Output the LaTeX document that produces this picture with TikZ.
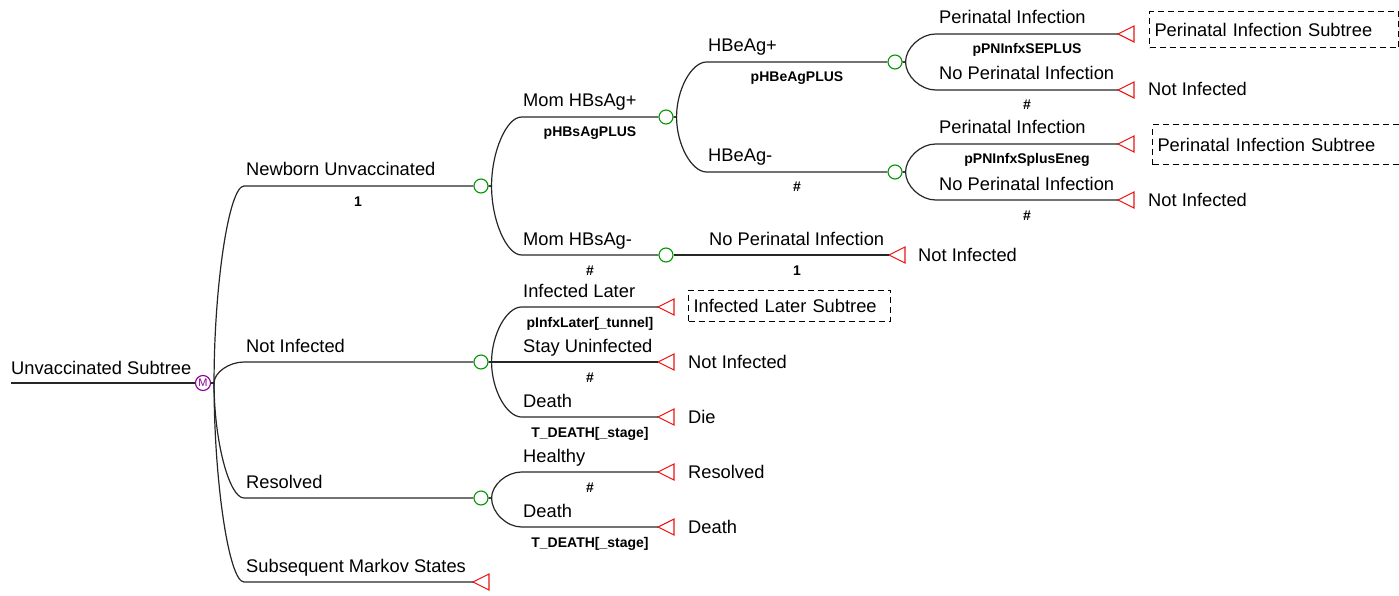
\documentclass[tikz,border=0pt]{standalone}
\usepackage{fontspec}
\setmainfont{Liberation Sans}
\usetikzlibrary{calc,shapes.geometric}

\def\bigsize{18.3}
\def\smallsize{14}

\definecolor{chancegreen}{RGB}{0,150,0}
\definecolor{termred}{RGB}{235,20,20}
\definecolor{markovpurple}{RGB}{140,0,150}

\begin{document}
\begin{tikzpicture}[x=1pt,y=-1pt,
  every node/.style={font=\fontsize{\bigsize}{22}\selectfont},
  tree/.style={line width=1.2pt,black!85},
  lbl/.style={anchor=base west,inner sep=0pt},
  prob/.style={anchor=base,inner sep=0pt,font=\fontsize{\smallsize}{16}\selectfont\bfseries},
  outc/.style={anchor=base west,inner sep=0pt},
  chance/.style={circle,draw=chancegreen,line width=1.1pt,minimum size=14pt,inner sep=0pt},
  markov/.style={circle,draw=markovpurple,line width=1.1pt,minimum size=15pt,inner sep=0pt,
    text=markovpurple,font=\fontsize{11}{11}\selectfont},
  term/.style={isosceles triangle,isosceles triangle stretches,shape border rotate=180,
    draw=termred,line width=1.1pt,minimum width=16pt,minimum height=16pt,inner sep=0pt,outer sep=0pt},
  subtree/.style={draw,line width=1pt,dash pattern=on 6pt off 4pt,anchor=west,
    inner xsep=5pt,inner ysep=0pt,align=left},
  branch/.style={to path={let \p1=(\tikztostart), \p2=(\tikztotarget) in
    -- ++(3,0) .. controls ({\x1+3},{0.5*\y1+0.5*\y2}) and ({\x1+18},\y2) .. ({\x1+33},\y2)
    -- (\tikztotarget)}}]
 \useasboundingbox (0,0) rectangle (1399,596);
 \clip (0,0) rectangle (1399,596);
 % Root and Markov node
 \coordinate (root) at (11,383);
 \node[markov] (mk) at (203,383) {M};
 \node[lbl] (rootlbl) at (11,374) {Unvaccinated Subtree};
 \draw[tree] (root) -- (mk);
 % Chance nodes
 \foreach \n/\x/\y in {c1/481/186,c2/481/362,c3/481/498,c4/666/117,
   c5/666/255,c6/895/62,c7/895/172}
  \node[chance] (\n) at (\x,\y) {};
 % Terminal nodes
 \foreach \n/\x/\y in {t1/1118/34,t2/1118/90,t3/1118/144,t4/1118/200,t5/889/255,
   t6/658/307,t7/658/362,t8/658/417,t9/658/472,t10/658/527,t11/473/582}
  \node[term,anchor=apex] (\n) at (\x,\y) {};
 % Branches
 \foreach \a/\b in {mk/c1,mk/c2,mk/c3,c1/c4,c1/c5,c4/c6,c4/c7}
  \draw[tree] (\a.east) to[branch] (\b.west);
 \foreach \a/\b in {mk/t11,c6/t1,c6/t2,c7/t3,c7/t4,c5/t5,c2/t6,c2/t7,c2/t8,c3/t9,c3/t10}
  \draw[tree] (\a.east) to[branch] (\b.apex);
 % Branch names
 \foreach \n/\x/\y/\t in {nbu/246/186/Newborn Unvaccinated,nif/246/362/Not Infected,
   res/246/498/Resolved,sms/246/582/Subsequent Markov States,
   hbp/523/117/Mom HBsAg+,hbm/523/255/Mom HBsAg-,hep/708/62/HBeAg+,hem/708/172/HBeAg-,
   pia/939/34/Perinatal Infection,npa/939/90/No Perinatal Infection,
   pib/939/144/Perinatal Infection,npb/939/200/No Perinatal Infection,
   npc/709/255/No Perinatal Infection,ilt/523/307/Infected Later,
   stu/523/362/Stay Uninfected,dta/523/417/Death,hly/523/472/Healthy,dtb/523/527/Death}
  \node[lbl] (\n) at (\x,\y-10) {\t};
 % Probabilities
 \foreach \n/\x/\y/\t in {pnbu/358/186/1,phbp/590/117/pHBsAgPLUS,phbm/590/255/\#,
   phep/797/62/pHBeAgPLUS,phem/797/172/\#,ppia/1027/34/pPNInfxSEPLUS,pnpa/1027/90/\#,
   ppib/1027/144/pPNInfxSplusEneg,pnpb/1027/200/\#,pnpc/797/255/1,
   pilt/590/307/{pInfxLater[\_tunnel]},pstu/590/362/\#,pdta/590/417/{T\_DEATH[\_stage]},
   phly/590/472/\#,pdtb/590/527/{T\_DEATH[\_stage]}}
  \node[prob] (\n) at (\x,\y+20) {\t};
 % Outcomes
 \foreach \n/\x/\y/\t in {oa/1148/90/Not Infected,ob/1148/200/Not Infected,
   oc/918/255/Not Infected,od/688/362/Not Infected,oe/688/417/Die,
   of/688/472/Resolved,og/688/527/Death}
  \node[outc] (\n) at (\x,\y+6) {\t};
 % Linked subtrees
 \node[subtree,text width=239pt,minimum height=36pt] (b1) at (1149,30) {Perinatal Infection Subtree};
 \node[subtree,text width=243pt,minimum height=40pt] (b2) at (1152,145) {Perinatal Infection Subtree};
 \node[subtree,text width=192pt,minimum height=31pt] (b3) at (688,305.5) {Infected Later Subtree};
\end{tikzpicture}
\end{document}
